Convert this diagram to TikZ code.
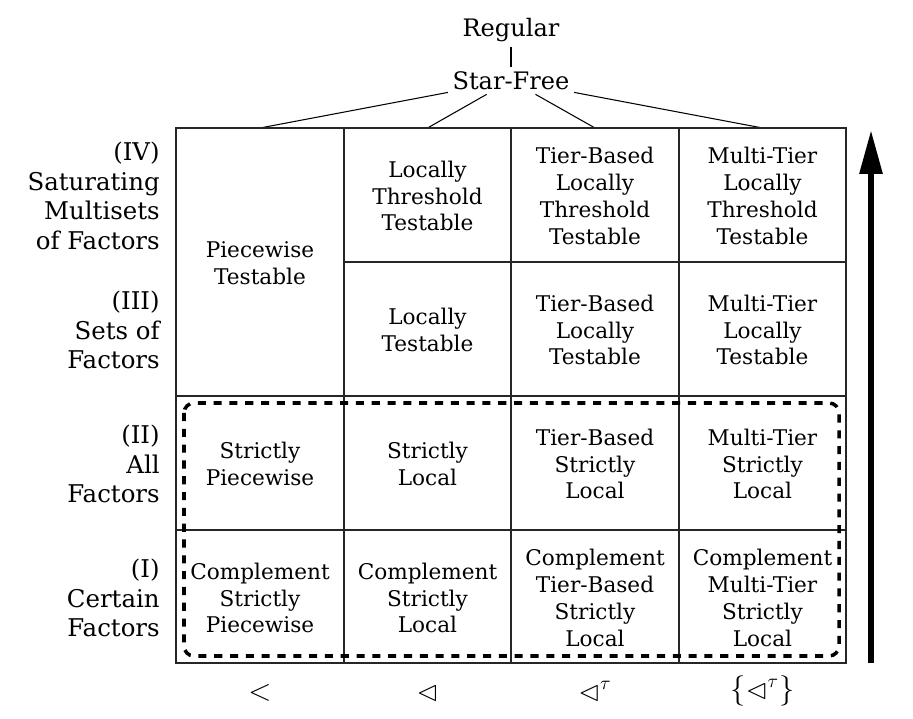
\documentclass[tikz,border=0pt]{standalone}
\usepackage{amssymb}
\usepackage{fontspec}
\setmainfont{DejaVu Serif}
\usetikzlibrary{arrows.meta}
\tikzset{
  tbgrid/.style={line width=0.6pt, draw=black!85},
  tbcell/.style={align=center, inner sep=1pt, font=\fontsize{12.3}{15.2}\selectfont},
  tbrow/.style={align=right, anchor=east, inner sep=0pt, font=\fontsize{13.9}{16.9}\selectfont},
  tbtop/.style={inner sep=2.5pt, font=\fontsize{13.7}{16.5}\selectfont},
  tbsym/.style={inner sep=1pt, font=\fontsize{16}{19}\selectfont},
  tblink/.style={line width=0.6pt, draw=black},
  tbdash/.style={line width=2pt, draw=black, dash pattern=on 4.6pt off 4.4pt, rounded corners=0.2cm},
  tbarrow/.style={line width=3.4pt, draw=black, -{Triangle[length=0.88cm,width=0.44cm]}},
}

\begin{document}
\begin{tikzpicture}[x=0.02cm,y=-0.02cm]
\useasboundingbox (0,0) rectangle (913,719);
% hierarchy on top
\node[tbtop] (reg) at (511,30) {Regular};
\node[tbtop] (sf) at (511,80.5) {Star-Free};
\coordinate (top1) at (260,128);
\coordinate (top2) at (427.5,128);
\coordinate (top3) at (595,128);
\coordinate (top4) at (762.5,128);
\draw[tblink] (reg) -- (sf);
\draw[tblink] (sf) -- (top1);
\draw[tblink] (sf) -- (top2);
\draw[tblink] (sf) -- (top3);
\draw[tblink] (sf) -- (top4);
% table
\draw[tbgrid] (176,128) rectangle (846,663);
\draw[tbgrid] (344,128) -- (344,663);
\draw[tbgrid] (511,128) -- (511,663);
\draw[tbgrid] (679,128) -- (679,663);
\draw[tbgrid] (344,262) -- (846,262);
\draw[tbgrid] (176,396) -- (846,396);
\draw[tbgrid] (176,530) -- (846,530);
% row labels
\node[tbrow] (r4) at (160,196) {(IV)\\Saturating\\Multisets\\of Factors};
\node[tbrow] (r3) at (160,330) {(III)\\Sets of\\Factors};
\node[tbrow] (r2) at (160,464) {(II)\\All\\Factors};
\node[tbrow] (r1) at (160,598) {(I)\\Certain\\Factors};
% cells
\node[tbcell] (pt) at (260,263) {Piecewise\\Testable};
\node[tbcell] (ltt) at (427.5,196) {Locally\\Threshold\\Testable};
\node[tbcell] (tltt) at (595,196) {Tier-Based\\Locally\\Threshold\\Testable};
\node[tbcell] (mltt) at (762.5,196) {Multi-Tier\\Locally\\Threshold\\Testable};
\node[tbcell] (lt) at (427.5,330) {Locally\\Testable};
\node[tbcell] (tlt) at (595,330) {Tier-Based\\Locally\\Testable};
\node[tbcell] (mlt) at (762.5,330) {Multi-Tier\\Locally\\Testable};
\node[tbcell] (sp) at (260,464) {Strictly\\Piecewise};
\node[tbcell] (sl) at (427.5,464) {Strictly\\Local};
\node[tbcell] (tsl) at (595,464) {Tier-Based\\Strictly\\Local};
\node[tbcell] (msl) at (762.5,464) {Multi-Tier\\Strictly\\Local};
\node[tbcell] (csp) at (260,598) {Complement\\Strictly\\Piecewise};
\node[tbcell] (csl) at (427.5,598) {Complement\\Strictly\\Local};
\node[tbcell] (ctsl) at (595,598) {Complement\\Tier-Based\\Strictly\\Local};
\node[tbcell] (cmsl) at (762.5,598) {Complement\\Multi-Tier\\Strictly\\Local};
% strictly local classes
\draw[tbdash] (184,403) rectangle (839,656);
% orders below the columns
\node[tbsym] (o1) at (260,693) {$<$};
\node[tbsym] (o2) at (427.5,693) {$\vartriangleleft$};
\node[tbsym] (o3) at (595,691) {$\vartriangleleft^{\tau}$};
\node[tbsym] (o4) at (762.5,691) {$\{\vartriangleleft^{\tau}\}$};
% increasing expressivity
\coordinate (arrlo) at (871,663);
\coordinate (arrhi) at (871,130);
\draw[tbarrow] (arrlo) -- (arrhi);
\end{tikzpicture}
\end{document}
